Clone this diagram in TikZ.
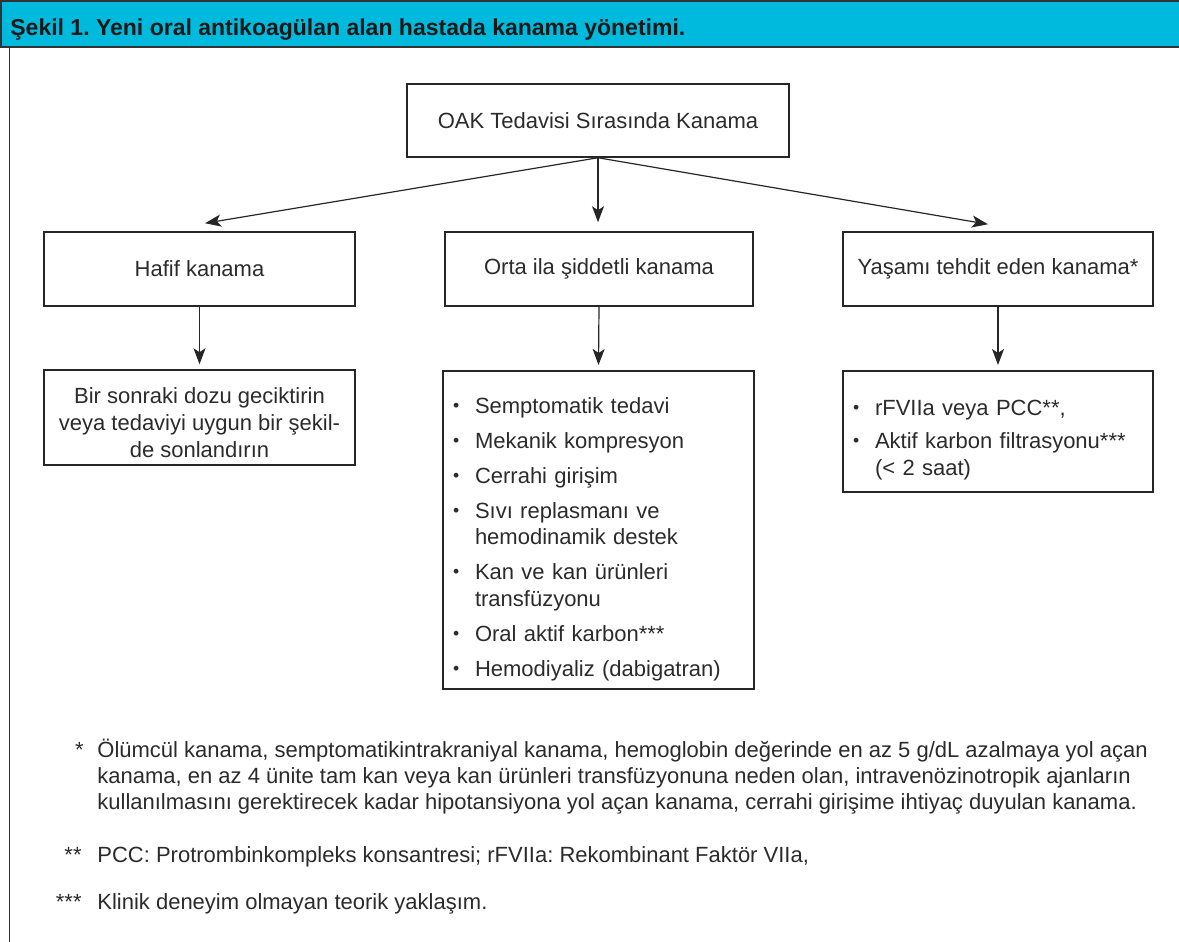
\documentclass[tikz,border=0pt]{standalone}
\usepackage{fontspec}
\setmainfont{Liberation Sans}
\frenchspacing
\usetikzlibrary{arrows.meta}
\usetikzlibrary{calc}
\usetikzlibrary{positioning}
\definecolor{headcyan}{HTML}{00BADE}
\definecolor{txtgray}{HTML}{2B2B2B}
\newcommand{\itm}[1]{\par\noindent\hangindent=11pt\hangafter=1\makebox[11pt][l]{\raisebox{1pt}{\scalebox{0.8}{\textbullet}}}#1}

\begin{document}
\begin{tikzpicture}[x=0.5pt, y=-0.5pt,
		every node/.style={text=txtgray, font=\fontsize{11}{13.4}\selectfont},
		box/.style={draw=black!85, line width=0.75pt, minimum width=155.5pt, minimum height=37pt, align=center},
		listbox/.style={draw=black!85, line width=0.75pt, text width=145.5pt, inner xsep=5pt, align=left},
		arr/.style={-{Stealth[length=8pt,width=6pt,inset=2pt]}, line width=0.6pt, black!85},
		note/.style={anchor=base west, align=left, inner sep=0pt, font=\fontsize{11}{13}\selectfont}
	]
	\useasboundingbox (0,0) rectangle (1179,942);

	% header band and frame
	\fill[headcyan] (0,1) rectangle (1179,47);
	\draw[line width=1pt, black!80] (1179,1) -- (0.5,1) -- (0.5,47) -- (1179,47);
	\draw[line width=0.75pt, black!80] (9.5,47) -- (9.5,942);
	\node[anchor=base west, inner sep=0pt, text=black!90, font=\bfseries\fontsize{11.5}{13}\selectfont] (baslik) at (10,35)
		{Şekil 1. Yeni oral antikoagülan alan hastada kanama yönetimi.};

	% boxes
	\node[box, minimum width=191pt, minimum height=36.5pt] (oak) at (598,120.5) {OAK Tedavisi Sırasında Kanama};
	\node[box] (hafif) at (199.5,269) {Hafif kanama};
	\node[box, minimum width=154pt] (orta) at (599,269) {Orta ila şiddetli kanama};
	\node[box, minimum width=155pt] (yasam) at (998,269) {Yaşamı tehdit eden kanama*};

	\node[box, minimum height=47.5pt, inner ysep=2pt] (gecik) at (199.5,417.5)
		{\parbox[c][43pt][c]{146pt}{\centering\vspace*{5pt}Bir sonraki dozu geciktirin\\veya tedaviyi uygun bir şekil-\\de sonlandırın}};
	\node[listbox, minimum height=159pt, anchor=north] (tedavi) at (598.5,370) {\setlength{\parskip}{4pt}%
		\itm{Semptomatik tedavi}
		\itm{Mekanik kompresyon}
		\itm{Cerrahi girişim}
		\itm{Sıvı replasmanı ve\hfil\break hemodinamik destek}
		\itm{Kan ve kan ürünleri\hfil\break transfüzyonu}
		\itm{Oral aktif karbon***}
		\itm{Hemodiyaliz (dabigatran)}\par};
	\node[listbox, text width=145pt, minimum height=60.5pt, anchor=north] (ileri) at (998,370) {\setlength{\parskip}{3pt}%
		\itm{rFVIIa veya PCC**,}
		\itm{Aktif karbon filtrasyonu***\hfil\break (< 2 saat)}\par};

	% arrows
	\draw[arr] (oak.south) -- ([xshift=2.75pt,yshift=4pt]hafif.north);
	\draw[arr] (oak.south) -- ([xshift=-0.5pt,yshift=4.5pt]orta.north);
	\draw[arr] (oak.south) -- ([xshift=-5pt,yshift=3.5pt]yasam.north);
	\draw[arr] (hafif.south) -- ([yshift=2.5pt]gecik.north);
	\draw[arr] (orta.south) -- ([yshift=2.5pt]tedavi.north);
	\draw[arr] (yasam.south) -- ([yshift=2.5pt]ileri.north);

	% footnotes
	\node[note, anchor=base east] (y1) at (84,757) {*};
	\node[note] (n1) at (97,809) {Ölümcül kanama, semptomatikintrakraniyal kanama, hemoglobin değerinde en az 5 g/dL azalmaya yol açan\\
		kanama, en az 4 ünite tam kan veya kan ürünleri transfüzyonuna neden olan, intravenözinotropik ajanların\\
		kullanılmasını gerektirecek kadar hipotansiyona yol açan kanama, cerrahi girişime ihtiyaç duyulan kanama.};
	\node[note, anchor=base east] (y2) at (82,862) {**};
	\node[note] (n2) at (97,862) {PCC: Protrombinkompleks konsantresi; rFVIIa: Rekombinant Faktör VIIa,};
	\node[note, anchor=base east] (y3) at (82,909) {***};
	\node[note] (n3) at (97,909) {Klinik deneyim olmayan teorik yaklaşım.};
\end{tikzpicture}
\end{document}
